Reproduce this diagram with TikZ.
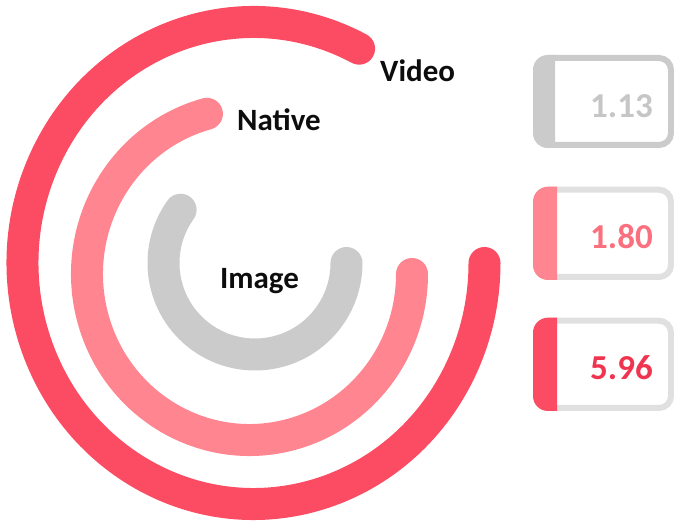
\documentclass[tikz,border=0pt]{standalone}
\usepackage{fontspec}
\setmainfont{Carlito}
\definecolor{videored}{RGB}{252,76,99}
\definecolor{nativepink}{RGB}{255,134,144}
\definecolor{imagegray}{RGB}{203,203,203}
\definecolor{framegray}{RGB}{224,224,224}
\definecolor{labelink}{RGB}{13,13,13}
\definecolor{valgray}{RGB}{198,198,198}
\definecolor{valpink}{RGB}{250,112,126}
\definecolor{valred}{RGB}{240,52,80}
\tikzset{
  ring/.style={line width=32pt, line cap=round},
  ringlabel/.style={font=\fontsize{31}{31}\selectfont\bfseries, text=labelink, inner sep=0pt, anchor=base west},
  valuetext/.style={font=\fontsize{35}{35}\selectfont\bfseries, inner sep=0pt, anchor=base},
  valueframe/.style={line width=6pt, rounded corners=12pt},
}
\begin{document}
\begin{tikzpicture}[x=1pt,y=1pt]
\useasboundingbox (0,0) rectangle (674,521);

% concentric progress rings
\draw[ring, videored] (253.5,258) ++(62.8:231pt and 241pt)
  arc[start angle=62.8, end angle=360, x radius=231pt, y radius=241pt];
\draw[ring, nativepink] (249.5,247) ++(105.2:162.5pt and 166pt)
  arc[start angle=105.2, end angle=360, x radius=162.5pt, y radius=166pt];
\draw[ring, imagegray] (255,258) ++(144.4:91.5pt)
  arc[start angle=144.4, end angle=360, radius=91.5pt];

% ring labels
\node[ringlabel] (video) at (380,439.3) {Video};
\node[ringlabel] (native) at (237,390) {Native};
\node[ringlabel] (image) at (220,232.7) {Image};

% value boxes: frame, coloured left tab, value
\draw[valueframe, imagegray] (536,376) rectangle (671,463);
\begin{scope}
  \clip (530,370) rectangle (555,470);
  \fill[imagegray, rounded corners=15pt] (533,373) rectangle (590,466);
\end{scope}
\node[valuetext, text=valgray] (vimage) at (621.5,403.7) {1.13};

\draw[valueframe, framegray] (536,244) rectangle (671,331.3);
\begin{scope}
  \clip (530,238) rectangle (557,338);
  \fill[nativepink, rounded corners=15pt] (533,241) rectangle (590,334.3);
\end{scope}
\node[valuetext, text=valpink] (vnative) at (621.5,272) {1.80};

\draw[valueframe, framegray] (536,113) rectangle (671,200.3);
\begin{scope}
  \clip (530,107) rectangle (557,207);
  \fill[videored, rounded corners=15pt] (533,110) rectangle (590,203.3);
\end{scope}
\node[valuetext, text=valred] (vvideo) at (621.5,141) {5.96};
\end{tikzpicture}
\end{document}
